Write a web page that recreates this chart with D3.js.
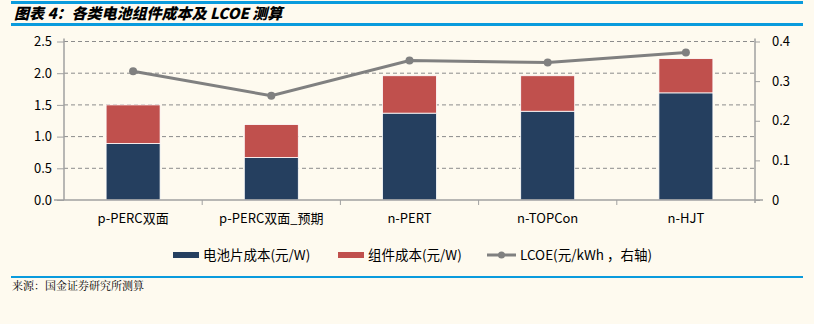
<!DOCTYPE html>
<html>
<head>
<meta charset="utf-8">
<script src="https://cdn.jsdelivr.net/npm/d3@7"></script>
<style>
  html, body { margin: 0; padding: 0; background: #FEFAEF; }
  svg { display: block; }
</style>
</head>
<body>
<svg id="chart" width="814" height="324"></svg>
<script>
// Cost breakdown per cell technology and LCOE
const categories = ["p-PERC双面", "p-PERC双面_预期", "n-PERT", "n-TOPCon", "n-HJT"];
const cellCost = [0.89, 0.67, 1.37, 1.40, 1.69];      // 电池片成本 (元/W)
const moduleCost = [0.61, 0.52, 0.59, 0.56, 0.54];    // 组件成本 (元/W)
const lcoe = [0.325, 0.263, 0.352, 0.347, 0.372];     // LCOE (元/kWh)
const leftTicks = [0, 0.5, 1.0, 1.5, 2.0, 2.5];
const rightTicks = [0, 0.1, 0.2, 0.3, 0.4];
const seriesNames = ["电池片成本(元/W)", "组件成本(元/W)", "LCOE(元/kWh ，右轴)"];

const svg = d3.select("#chart");
const font = "'Microsoft YaHei', 'Noto Sans CJK SC', 'DejaVu Sans', sans-serif";
const blue = "#0A9BDD";
const navy = "#253F5F";
const red = "#C0504D";
const lineGray = "#808080";

// Header: title between two blue rules
svg.append("rect").attr("x", 11).attr("y", 1).attr("width", 792).attr("height", 3).attr("fill", blue);
svg.append("rect").attr("x", 11).attr("y", 23).attr("width", 792).attr("height", 3).attr("fill", blue);
svg.append("text")
  .attr("x", 14).attr("y", 19)
  .attr("font-family", "'Noto Sans CJK SC', sans-serif")
  .attr("font-size", 15).attr("font-weight", 900).attr("font-style", "italic")
  .attr("fill", "#000")
  .text("图表 4：各类电池组件成本及 LCOE 测算");

// Plot area
const x0 = 64, x1 = 755, yTop = 41.5, yBot = 200;
const x = d3.scaleBand().domain(categories).range([x0, x1]).paddingInner(0).paddingOuter(0);
const yL = d3.scaleLinear().domain([0, 2.5]).range([yBot, yTop]);
const yR = d3.scaleLinear().domain([0, 0.4]).range([yBot, yTop]);

// Gridlines
svg.append("g").selectAll("line").data(leftTicks.filter(d => d > 0)).join("line")
  .attr("x1", x0).attr("x2", x1)
  .attr("y1", d => yL(d)).attr("y2", d => yL(d))
  .attr("stroke", "#8C8C8C").attr("stroke-width", 1).attr("stroke-dasharray", "4,3");

// Stacked bars
const barW = 54;
const bars = svg.append("g");
categories.forEach((c, i) => {
  const cx = x(c) + x.bandwidth() / 2;
  bars.append("rect")
    .attr("x", cx - barW / 2).attr("width", barW)
    .attr("y", yL(cellCost[i])).attr("height", yL(0) - yL(cellCost[i]))
    .attr("fill", navy).attr("stroke", "#fff").attr("stroke-width", 0.8);
  bars.append("rect")
    .attr("x", cx - barW / 2).attr("width", barW)
    .attr("y", yL(cellCost[i] + moduleCost[i])).attr("height", yL(cellCost[i]) - yL(cellCost[i] + moduleCost[i]))
    .attr("fill", red).attr("stroke", "#fff").attr("stroke-width", 0.8);
});

// Left axis
const axL = svg.append("g").attr("transform", `translate(${x0},0)`)
  .call(d3.axisLeft(yL).tickValues(leftTicks).tickFormat(d3.format(".1f")).tickSize(10).tickPadding(14));
axL.select(".domain").attr("stroke", "#A0A0A0").attr("stroke-width", 1.5).attr("d", `M0,${yTop - 3}V${yBot}`);
axL.selectAll(".tick line").attr("stroke", "#A0A0A0").attr("x2", -7);
axL.selectAll(".tick text").attr("font-family", font).attr("font-size", 13).attr("fill", "#000").attr("x", -12);

// Right axis
const axR = svg.append("g").attr("transform", `translate(${x1},0)`)
  .call(d3.axisRight(yR).tickValues(rightTicks).tickFormat(d => d === 0 ? "0" : d3.format(".1f")(d)).tickSize(5).tickPadding(12));
axR.select(".domain").attr("stroke", "#A0A0A0").attr("stroke-width", 1.5).attr("d", `M0,${yTop - 3}V${yBot + 3}`);
axR.selectAll(".tick line").attr("stroke", "#A0A0A0");
axR.selectAll(".tick text").attr("font-family", font).attr("font-size", 13).attr("fill", "#000");

// Bottom axis
const axB = svg.append("g").attr("transform", `translate(0,${yBot})`);
axB.append("line").attr("x1", x0 - 10).attr("x2", x1 + 8).attr("y1", 0).attr("y2", 0)
  .attr("stroke", "#A0A0A0").attr("stroke-width", 1.5);
axB.selectAll("line.tk").data(categories.slice(1)).join("line").attr("class", "tk")
  .attr("x1", d => x(d)).attr("x2", d => x(d)).attr("y1", 0).attr("y2", 5)
  .attr("stroke", "#A0A0A0");
axB.selectAll("text").data(categories).join("text")
  .attr("x", d => x(d) + x.bandwidth() / 2).attr("y", 23)
  .attr("text-anchor", "middle")
  .attr("font-family", font).attr("font-size", 13).attr("fill", "#000")
  .text(d => d);

// LCOE line
const line = d3.line().x((d, i) => x(categories[i]) + x.bandwidth() / 2).y(d => yR(d));
svg.append("path").datum(lcoe).attr("d", line)
  .attr("fill", "none").attr("stroke", lineGray).attr("stroke-width", 3);
svg.append("g").selectAll("circle").data(lcoe).join("circle")
  .attr("cx", (d, i) => x(categories[i]) + x.bandwidth() / 2).attr("cy", d => yR(d))
  .attr("r", 4).attr("fill", lineGray);

// Legend
const lg = svg.append("g").attr("font-family", font).attr("font-size", 13.5).attr("fill", "#000");
const legendItems = [
  { x: 173, w: 26, type: "bar", color: navy },
  { x: 338, w: 26, type: "bar", color: red },
  { x: 487, w: 29, type: "line", color: lineGray }
];
legendItems.forEach((it, i) => {
  const ly = 255;
  if (it.type === "bar") {
    lg.append("rect").attr("x", it.x).attr("y", ly - 3).attr("width", it.w).attr("height", 6).attr("fill", it.color);
  } else {
    lg.append("line").attr("x1", it.x).attr("x2", it.x + it.w).attr("y1", ly).attr("y2", ly)
      .attr("stroke", it.color).attr("stroke-width", 3);
    lg.append("circle").attr("cx", it.x + it.w / 2).attr("cy", ly).attr("r", 3.5).attr("fill", it.color);
  }
  lg.append("text").attr("x", it.x + it.w + 4).attr("y", ly + 5).text(seriesNames[i]);
});

// Footer
svg.append("rect").attr("x", 11).attr("y", 276).attr("width", 792).attr("height", 2).attr("fill", blue);
svg.append("text").attr("x", 12).attr("y", 290)
  .attr("font-family", "'Noto Serif CJK SC', 'Noto Sans CJK SC', serif")
  .attr("font-size", 11).attr("fill", "#000")
  .text("来源：国金证券研究所测算");
</script>
</body>
</html>
